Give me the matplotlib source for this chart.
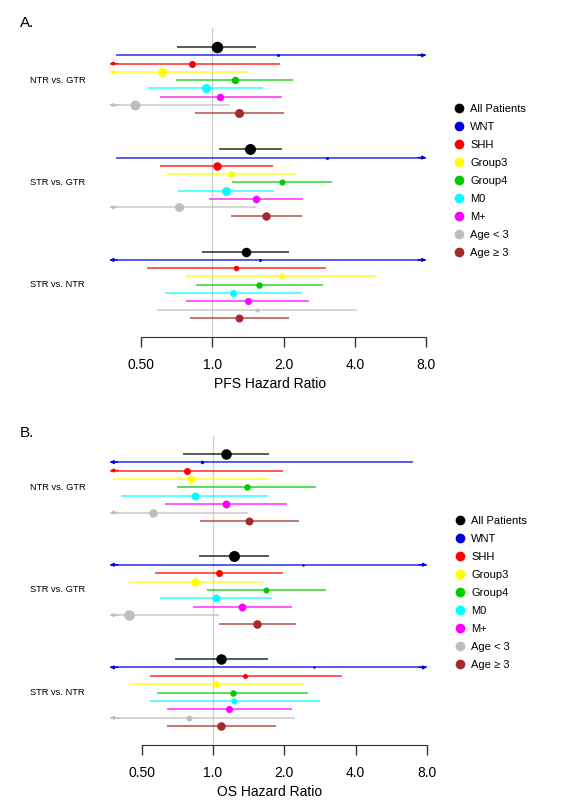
import numpy as np
import matplotlib
matplotlib.use('Agg')
import matplotlib.pyplot as plt
from matplotlib import transforms
from matplotlib.lines import Line2D
from matplotlib.ticker import NullLocator

plt.rcParams['font.family'] = ['Liberation Sans', 'DejaVu Sans']

subgroups = ['All Patients', 'WNT', 'SHH', 'Group3', 'Group4', 'M0', 'M+', 'Age < 3', 'Age \u2265 3']
colors = ['black', '#0000dd', '#ff0000', '#ffff00', '#00cc00', '#00ffff', '#ff00ff', '#bebebe', '#a52a2a']
comparisons = ['NTR vs. GTR', 'STR vs. GTR', 'STR vs. NTR']
xticks = [0.5, 1, 2, 4, 8]
xticklabels = ['0.50', '1.0', '2.0', '4.0', '8.0']

# PFS hazard ratios, one row per comparison
pfs_hr = [[1.04, 1.90, 0.82, 0.61, 1.24, 0.94, 1.08, 0.47, 1.29],
          [1.44, 3.05, 1.04, 1.20, 1.96, 1.14, 1.53, 0.72, 1.69],
          [1.38, 1.59, 1.26, 1.96, 1.58, 1.22, 1.41, 1.54, 1.30]]
pfs_lo = [[0.71, 0.39, 0.30, 0.365, 0.70, 0.535, 0.60, 0.30, 0.84],
          [1.065, 0.39, 0.60, 0.636, 1.21, 0.717, 0.97, 0.30, 1.20],
          [0.906, 0.30, 0.53, 0.77, 0.85, 0.63, 0.77, 0.58, 0.80]]
pfs_hi = [[1.53, 12, 1.93, 1.41, 2.2, 1.64, 1.97, 1.18, 2.0],
          [1.96, 12, 1.81, 2.26, 3.19, 1.82, 2.41, 1.52, 2.38],
          [2.1, 12, 3.01, 4.96, 2.93, 2.38, 2.56, 4.08, 2.1]]

# OS hazard ratios
os_hr = [[1.14, 0.90, 0.78, 0.81, 1.39, 0.84, 1.13, 0.56, 1.42],
         [1.23, 2.41, 1.06, 0.84, 1.67, 1.03, 1.33, 0.44, 1.54],
         [1.08, 2.68, 1.37, 1.03, 1.21, 1.23, 1.17, 0.79, 1.08]]
os_lo = [[0.75, 0.30, 0.30, 0.38, 0.707, 0.41, 0.63, 0.30, 0.88],
         [0.87, 0.30, 0.57, 0.44, 0.94, 0.60, 0.82, 0.30, 1.06],
         [0.69, 0.30, 0.54, 0.44, 0.58, 0.54, 0.64, 0.30, 0.64]]
os_hi = [[1.73, 6.97, 1.97, 1.73, 2.73, 1.71, 2.05, 1.40, 2.31],
         [1.73, 12, 1.97, 1.63, 3.01, 1.78, 2.16, 1.06, 2.25],
         [1.71, 12, 3.49, 2.42, 2.53, 2.82, 2.15, 2.23, 1.84]]

# dot diameters (px), kept apart from the values
pfs_dot = [[11.5, 3, 7, 9, 7.5, 9, 7.5, 10, 9],
           [11, 3, 8.5, 7, 6, 9, 7.5, 9, 8.5],
           [9.5, 3, 5.5, 5.5, 6.5, 7, 7, 4, 8]]
os_dot = [[10.5, 3.5, 7, 7.5, 6.5, 8, 8, 8.5, 8],
          [11, 2.5, 7, 8.5, 6, 8, 8, 10.5, 8.5],
          [10.5, 2.5, 5, 6.5, 6.5, 6, 7, 6, 8.5]]

W, H = 561, 806
fig = plt.figure(figsize=(W / 100, H / 100), dpi=100)
CLIP_LO, CLIP_HI = 0.367, 8.0


def panel(hr, lo, hi, dots, xlabel, top, bot, row0, rowpx, gstep, x0, k):
    left, right = 100, 440
    ax = fig.add_axes([left / W, 1 - bot / H, (right - left) / W, (bot - top) / H])
    ax.set_xscale('log', base=2)
    ax.set_xlim(2 ** ((left - x0) / k), 2 ** ((right - x0) / k))
    ax.set_ylim((bot - row0) / rowpx, (top - row0) / rowpx)
    ax.axvline(1, color='#cfcfcf', lw=0.9, zorder=0)

    trans = transforms.blended_transform_factory(fig.transFigure, ax.transData)
    for g, comp in enumerate(comparisons):
        ax.text(30 / W, g * gstep + 4, comp, transform=trans, fontsize=6.7,
                va='center', ha='left')
        for r in range(len(subgroups)):
            y = g * gstep + r
            c = colors[r]
            l = max(lo[g][r], CLIP_LO)
            h = min(hi[g][r], CLIP_HI)
            ax.plot([l, h], [y, y], color=c, lw=1.3, alpha=0.7, solid_capstyle='butt')
            ax.plot(hr[g][r], y, 'o', ms=dots[g][r] * 0.72, color=c, mec='none', zorder=3)
            if lo[g][r] < CLIP_LO:
                ax.annotate('', xy=(CLIP_LO, y), xytext=(CLIP_LO * 1.08, y),
                            arrowprops=dict(arrowstyle='-|>', color=c, lw=1,
                                            mutation_scale=5, shrinkA=0, shrinkB=0))
            if hi[g][r] > CLIP_HI:
                ax.annotate('', xy=(CLIP_HI, y), xytext=(CLIP_HI / 1.08, y),
                            arrowprops=dict(arrowstyle='-|>', color=c, lw=1,
                                            mutation_scale=5, shrinkA=0, shrinkB=0))

    for s in ['top', 'left', 'right']:
        ax.spines[s].set_visible(False)
    ax.spines['bottom'].set_bounds(0.5, 8)
    ax.spines['bottom'].set_color('#333333')
    ax.set_yticks([])
    ax.set_xticks(xticks)
    ax.set_xticklabels(xticklabels)
    ax.xaxis.set_minor_locator(NullLocator())
    ax.tick_params(axis='x', length=7, width=1, color='#333333', labelsize=10, pad=8)
    ax.set_xlabel(xlabel, fontsize=10, labelpad=4)
    ax.patch.set_alpha(0)
    return ax


panel(pfs_hr, pfs_lo, pfs_hi, pfs_dot, 'PFS Hazard Ratio', 28, 337, 47, 8.29, 12.34, 212.5, 71.2)
panel(os_hr, os_lo, os_hi, os_dot, 'OS Hazard Ratio', 435.7, 745, 453.7, 8.4, 12.22, 213, 71.3)

fig.text(20 / W, 1 - 23 / H, 'A.', fontsize=11, va='center', ha='left')
fig.text(20 / W, 1 - 433 / H, 'B.', fontsize=11, va='center', ha='left')

handles = [Line2D([], [], ls='none', marker='o', ms=7, color=c, mec='none') for c in colors]
for top_y, left_x in [(103.8, 453.5), (516.2, 454.5)]:
    fig.legend(handles, subgroups, loc='upper left',
               bbox_to_anchor=(left_x / W, 1 - top_y / H), frameon=False, fontsize=8,
               handlelength=1.0, handletextpad=0.5, labelspacing=0.72,
               borderpad=0, borderaxespad=0)

fig.savefig('out.png', dpi=100)
